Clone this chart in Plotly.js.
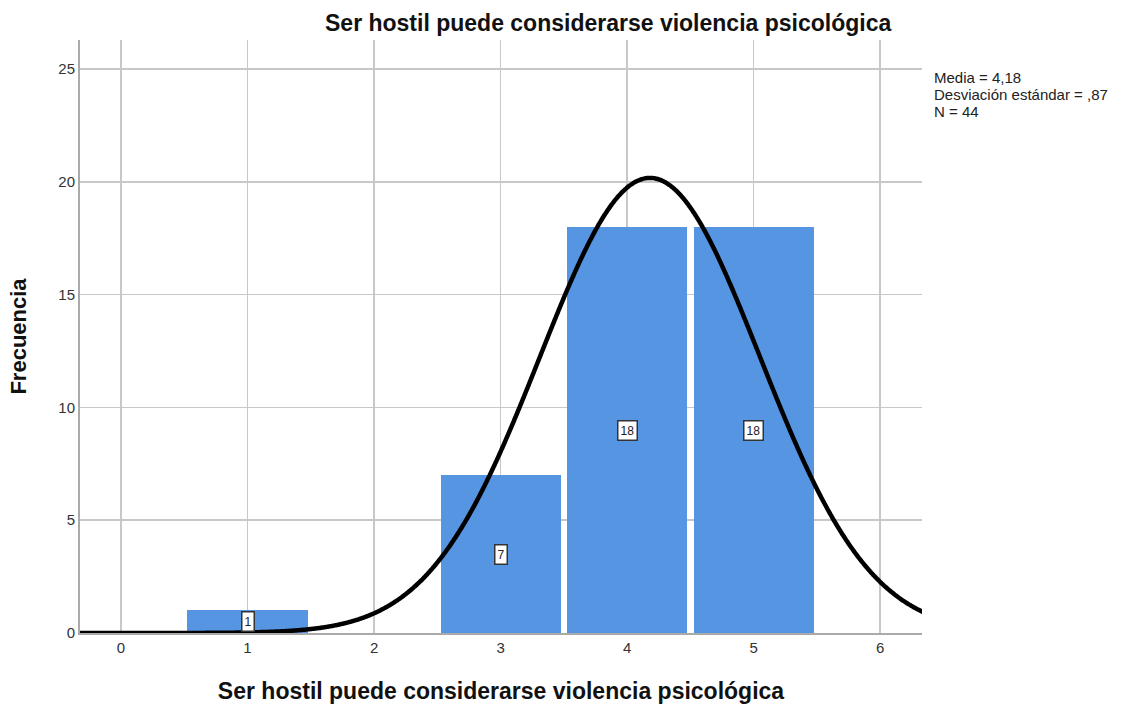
<!DOCTYPE html>
<html>
<head>
<meta charset="utf-8">
<script src="https://cdn.plot.ly/plotly-3.0.1.min.js"></script>
<style>html,body{margin:0;padding:0;background:#fff;}#chart{width:1122px;height:706px;}</style>
</head>
<body>
<div id="chart"></div>
<script>
const categories = [1, 3, 4, 5];
const frequencies = [1, 7, 18, 18];
const barLabels = ["1", "7", "18", "18"];
const statMean = 4.18;
const statSD = 0.87;
const statN = 44;
const xTicks = [0, 1, 2, 3, 4, 5, 6];
const yTicks = [0, 5, 10, 15, 20, 25];
const chartTitle = "Ser hostil puede considerarse violencia psicológica";
const xTitle = "Ser hostil puede considerarse violencia psicológica";
const yTitle = "Frecuencia";
const statsLines = ["Media = 4,18", "Desviación estándar = ,87", "N = 44"];

// Normal curve implied by the displayed statistics (bin width 1)
const curveX = [], curveY = [];
for (let i = 0; i <= 800; i++) {
  const x = -0.4 + i * (6.8 / 800);
  curveX.push(x);
  const z = (x - statMean) / statSD;
  curveY.push(statN / (statSD * Math.sqrt(2 * Math.PI)) * Math.exp(-0.5 * z * z));
}

const FONT = 'Liberation Sans, Arial, sans-serif';

const traces = [
  {type: 'bar', x: categories, y: frequencies, width: 0.95,
   marker: {color: '#5595e2', line: {width: 0}}, hoverinfo: 'x+y'},
  {type: 'scatter', mode: 'lines', x: curveX, y: curveY, line: {color: '#000', width: 4.5, shape: 'spline'},
   hoverinfo: 'skip'}
];

const annotations = categories.map((c, i) => ({
  x: c, y: frequencies[i] / 2, xref: 'x', yref: 'y', text: barLabels[i],
  showarrow: false, bgcolor: '#fff', bordercolor: '#333', borderwidth: 1.5, borderpad: 2,
  font: {family: FONT, size: 12, color: '#222'}
}));
statsLines.forEach((s, i) => annotations.push({
  xref: 'paper', yref: 'paper', x: 1.012, y: 0.936 - i * 0.0287, xanchor: 'left', yanchor: 'middle',
  align: 'left', showarrow: false, text: s,
  font: {family: FONT, size: 15, color: '#222'}
}));
annotations.push({
  xref: 'paper', yref: 'paper', x: 0.627, y: 1.003, xanchor: 'center', yanchor: 'bottom',
  showarrow: false, text: '<b>' + chartTitle + '</b>',
  font: {family: FONT, size: 23, color: '#111'}
});

const layout = {
  width: 1122, height: 706,
  margin: {l: 80, r: 200, t: 40, b: 73},
  paper_bgcolor: '#fff', plot_bgcolor: '#fff',
  showlegend: false,
  bargap: 0,
  xaxis: {
    range: [-0.324, 6.33], tickvals: xTicks, ticktext: xTicks.map(String),
    showgrid: true, gridcolor: '#c8c8c8', gridwidth: 1.5, zeroline: false,
    showline: true, linecolor: '#aaa', linewidth: 1.5, ticks: '', ticklen: 0,
    tickfont: {family: FONT, size: 15, color: '#333'},
    title: {text: '<b>' + xTitle + '</b>', standoff: 28,
            font: {family: FONT, size: 23, color: '#111'}}
  },
  yaxis: {
    range: [0, 26.29], tickvals: yTicks, ticktext: yTicks.map(String),
    showgrid: true, gridcolor: '#c8c8c8', gridwidth: 1.5, zeroline: false,
    showline: true, linecolor: '#aaa', linewidth: 2, ticks: '', ticklen: 0,
    tickfont: {family: FONT, size: 15, color: '#333'},
    title: {text: '<b>' + yTitle + '</b>', standoff: 26,
            font: {family: FONT, size: 22, color: '#111'}}
  },
  annotations: annotations
};

Plotly.newPlot('chart', traces, layout, {displayModeBar: false, staticPlot: true});
</script>
</body>
</html>
